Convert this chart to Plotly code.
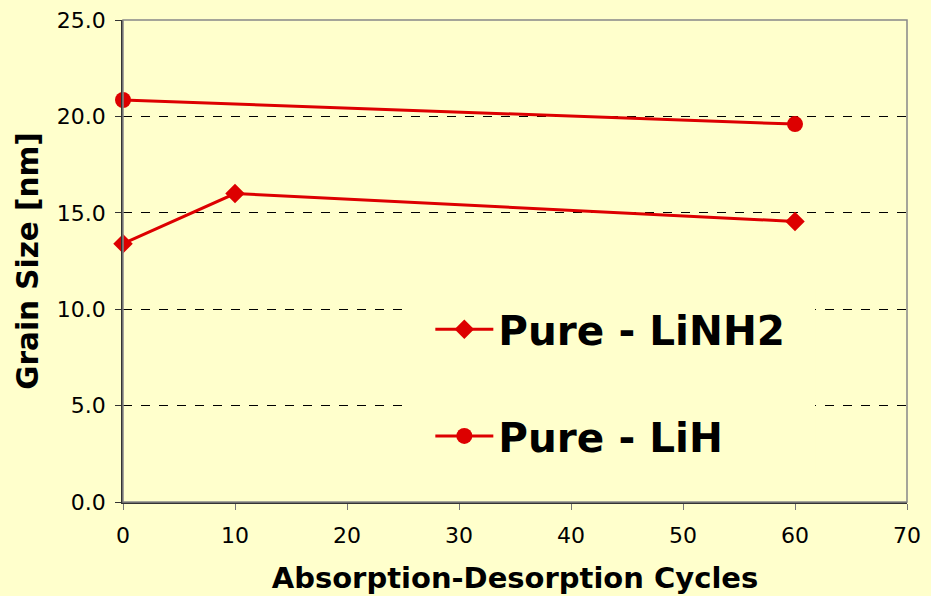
import plotly.graph_objects as go

cycles_linh2 = [0, 10, 60]
size_linh2 = [13.4, 16.0, 14.55]
cycles_lih = [0, 60]
size_lih = [20.85, 19.6]
y_ticks = [0, 5, 10, 15, 20, 25]
x_ticks = [0, 10, 20, 30, 40, 50, 60, 70]

BG = "#FFFFCC"
RED = "#DD0000"
FONT = "Verdana, DejaVu Sans, sans-serif"

fig = go.Figure()
fig.add_trace(go.Scatter(
    x=cycles_linh2, y=size_linh2, mode="lines+markers", name="Pure - LiNH2",
    line=dict(color=RED, width=3), marker=dict(symbol="diamond", size=15, color=RED),
    legendgroup="a", cliponaxis=False))
fig.add_trace(go.Scatter(
    x=cycles_lih, y=size_lih, mode="lines+markers", name="Pure - LiH",
    line=dict(color=RED, width=3), marker=dict(symbol="circle", size=16, color=RED),
    legendgroup="b", cliponaxis=False))

fig.update_layout(
    width=931, height=596,
    paper_bgcolor=BG, plot_bgcolor=BG,
    margin=dict(l=123, r=24, t=20, b=94),
    font=dict(family=FONT, color="black", size=22),
    showlegend=True,
    legend=dict(x=0.392, y=0.247, xanchor="left", yanchor="middle",
                bgcolor="rgba(0,0,0,0)", font=dict(size=40.5, family=FONT, color="black", weight="bold"),
                tracegroupgap=51, traceorder="grouped", itemwidth=58),
    shapes=[
        dict(type="rect", xref="paper", yref="paper", x0=0.3635, x1=0.8827, y0=0.056, y1=0.44,
             fillcolor=BG, line=dict(width=0), layer="above"),
        dict(type="rect", xref="paper", yref="paper", x0=0, x1=1, y0=0, y1=1,
             line=dict(color="#888888", width=1.5), layer="above"),
    ],
)
fig.update_xaxes(
    range=[0, 70], tickvals=x_ticks, ticks="outside", ticklen=6, tickcolor="#777",
    ticklabelstandoff=7, automargin=False,
    showline=True, linecolor="#333", linewidth=1.5, showgrid=False, zeroline=False,
    title=dict(text="<b>Absorption-Desorption Cycles</b>", font=dict(size=29), standoff=21),
)
fig.update_yaxes(
    range=[0, 25], tickvals=y_ticks, tickformat=".1f", ticks="outside", ticklen=6, tickcolor="#333",
    ticklabelstandoff=5, automargin=False,
    showline=True, linecolor="#333", linewidth=1.5, showgrid=True, gridcolor="black",
    griddash="dash", gridwidth=1, zeroline=False,
    title=dict(text="<b>Grain Size [nm]</b>", font=dict(size=29.5), standoff=10),
)
fig.write_html("out.html", config={"displayModeBar": False},
               post_script="document.body.style.margin='0px';document.body.style.padding='0px';")
